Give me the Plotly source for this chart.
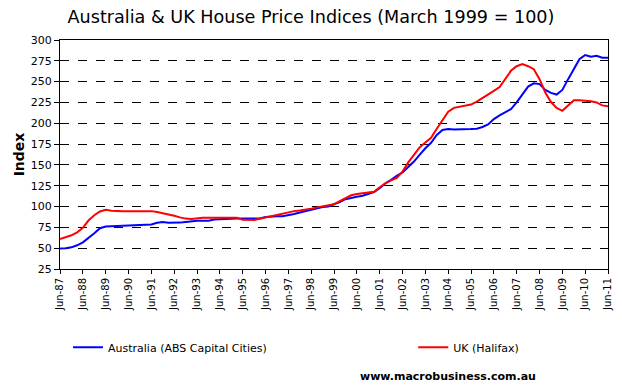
import plotly.graph_objects as go
import pandas as pd

# Quarterly observations, Jun-87 .. Jun-11
dates = pd.date_range("1987-06-01", periods=97, freq="3MS")

australia = [
    49.5, 49.8, 51, 53.5, 57, 62, 68, 74, 76, 76.3, 76.5, 76.8, 77, 77.3, 77.6, 78,
    78.5, 80.5, 81.5, 80.5, 80.5, 80.7, 81.5, 82.5, 83, 83, 83, 84.5, 84.5, 85, 85.3, 85.6,
    85.6, 85.6, 85.6, 85.6, 87.5, 88.4, 88.4, 88.4, 89.5, 91, 92.8, 94.5, 96, 97.8, 99.5, 100,
    102.5, 105.5, 108.8, 110.5, 111.8, 113, 115, 117.5, 122, 128, 132, 137, 141, 147, 154, 162,
    170, 176.5, 186, 192, 193, 192.5, 192.5, 193, 193, 193.5, 195.5, 198.5, 205, 209.5, 213, 217,
    225, 234, 244, 248, 247, 240, 236.5, 234.5, 240, 253, 266, 277, 282, 280, 281, 278.7,
    278.7,
]

uk = [
    61, 63, 65.5, 69, 74.5, 83.5, 89.5, 94, 96, 95, 94.5, 94.5, 94.5, 94.5, 94.5, 94.5,
    94.5, 93.5, 92.2, 91, 89, 87, 85.5, 85, 86, 86.4, 86.4, 86.4, 86.4, 86.4, 86.4, 86.4,
    84, 83.7, 83.7, 85.4, 87, 88.8, 90.4, 92, 93.5, 94.5, 95.3, 96.2, 97.5, 99, 100.2, 101.5,
    102.7, 106.5, 110.5, 113.5, 115, 115.8, 116.6, 117.8, 123, 128, 131.5, 134.5, 142, 153, 162, 171,
    177, 182.5, 193.5, 204.5, 214, 218.5, 220, 221.2, 222.5, 226, 230, 234.5, 239, 243.5, 254, 263,
    268.5, 271, 268.5, 265, 253, 237, 225.5, 218.5, 215, 221, 227.5, 227.5, 227, 226.5, 225, 221.5,
    220.5,
]

tick_dates = pd.date_range("1987-06-01", "2011-06-01", freq="12MS")
tick_labels = [d.strftime("Jun-%y") for d in tick_dates]
y_ticks = list(range(25, 301, 25))

font_family = "DejaVu Sans"

fig = go.Figure()
fig.add_trace(go.Scatter(x=dates, y=australia, mode="lines", name="Australia (ABS Capital Cities)",
                         line=dict(color="#0000FF", width=2), legend="legend"))
fig.add_trace(go.Scatter(x=dates, y=uk, mode="lines", name="UK (Halifax)",
                         line=dict(color="#FF0000", width=2), legend="legend2"))

legend_common = dict(orientation="h", xanchor="left", yanchor="middle", itemwidth=30,
                     font=dict(family=font_family, size=11, color="black"),
                     bgcolor="rgba(0,0,0,0)")

fig.update_layout(
    width=622, height=392,
    margin=dict(l=60, r=14, t=40, b=123, autoexpand=False),
    paper_bgcolor="white", plot_bgcolor="white",
    font=dict(family=font_family, size=11, color="black"),
    title=dict(text="Australia & UK House Price Indices (March 1999 = 100)",
               x=0.5, xanchor="center", y=0.972, yanchor="top",
               font=dict(family=font_family, size=17.6, color="black")),
    showlegend=True,
    legend=dict(x=0.0146, y=-0.342, **legend_common),
    legend2=dict(x=0.6446, y=-0.342, **legend_common),
    annotations=[dict(text="<b>www.macrobusiness.com.au</b>", x=0.544, y=-0.469,
                      xref="paper", yref="paper", xanchor="left", yanchor="middle",
                      showarrow=False, font=dict(family=font_family, size=11, color="black"))],
)

fig.update_xaxes(
    type="date",
    range=[tick_dates[0], tick_dates[-1]],
    tickvals=tick_dates, ticktext=tick_labels, tickangle=-90,
    ticks="outside", ticklen=4, tickcolor="black",
    showline=True, linecolor="black", linewidth=1, mirror=True,
    showgrid=False, zeroline=False,
    tickfont=dict(family=font_family, size=10, color="black"),
)
fig.update_yaxes(
    range=[25, 300], tickvals=y_ticks,
    ticks="outside", ticklen=5, tickcolor="black",
    showline=True, linecolor="black", linewidth=1, mirror=True,
    showgrid=True, gridcolor="black", griddash="dash", gridwidth=1,
    zeroline=False,
    tickfont=dict(family=font_family, size=11, color="black"),
    title=dict(text="<b>Index</b>", font=dict(family=font_family, size=14, color="black"), standoff=2),
)

fig.write_html("out.html", config={"displayModeBar": False},
               post_script="document.body.style.margin='0';")
